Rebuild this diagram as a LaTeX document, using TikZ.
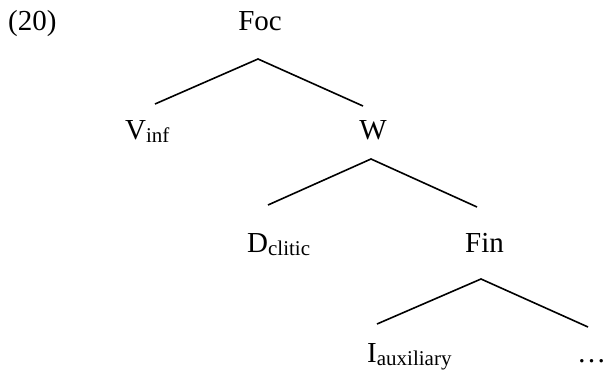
\documentclass[tikz,border=0pt]{standalone}
\usepackage{fontspec}
\setmainfont{Liberation Serif}
\begin{document}
\begin{tikzpicture}[x=1pt,y=-1pt,
  lbl/.style={anchor=base west,inner sep=0pt,font=\fontsize{29}{34}\selectfont},
  branch/.style={line width=1.6pt}]
\useasboundingbox (0,0) rectangle (607,374);
\newcommand{\subtxt}[1]{\raisebox{-3pt}{\fontsize{21}{23}\selectfont #1}}
% labels
\node[lbl] (ex) at (8,31) {(20)};
\node[lbl,anchor=base] (foc) at (260,31) {Foc};
\node[lbl] (vinf) at (125,140) {V\subtxt{inf}};
\node[lbl,anchor=base] (w) at (373,140) {W};
\node[lbl] (dcl) at (247,252) {D\subtxt{clitic}};
\node[lbl] (fin) at (465,252) {Fin};
\node[lbl] (iaux) at (367,362) {I\subtxt{auxiliary}};
\node[lbl] (dots) at (577,362) {\ldots};
% branch points
\coordinate (a1) at (258,59);
\coordinate (l1) at (155,104);
\coordinate (r1) at (363,106);
\coordinate (a2) at (371,159);
\coordinate (l2) at (268,205);
\coordinate (r2) at (477,207);
\coordinate (a3) at (481,279);
\coordinate (l3) at (377,324);
\coordinate (r3) at (588,327);
\draw[branch] (l1) -- (a1) -- (r1);
\draw[branch] (l2) -- (a2) -- (r2);
\draw[branch] (l3) -- (a3) -- (r3);
\end{tikzpicture}
\end{document}
